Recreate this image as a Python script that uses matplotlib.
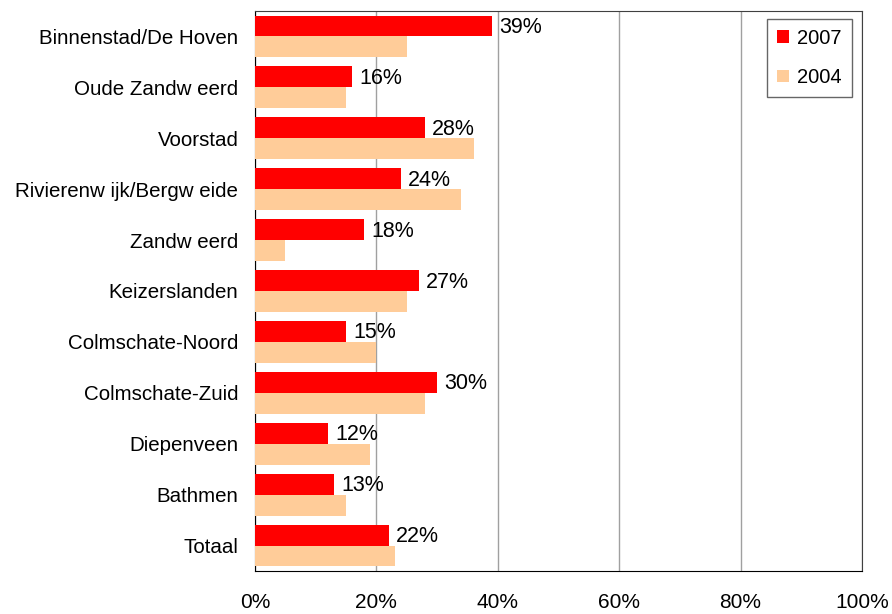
import numpy as np
import matplotlib.pyplot as plt
from matplotlib.ticker import PercentFormatter

plt.rcParams['font.family'] = ['Liberation Sans', 'DejaVu Sans']

wijken = ['Binnenstad/De Hoven', 'Oude Zandw eerd', 'Voorstad', 'Rivierenw ijk/Bergw eide',
          'Zandw eerd', 'Keizerslanden', 'Colmschate-Noord', 'Colmschate-Zuid',
          'Diepenveen', 'Bathmen', 'Totaal']
waarden2007 = [39, 16, 28, 24, 18, 27, 15, 30, 12, 13, 22]
waarden2004 = [25, 15, 36, 34, 5, 25, 20, 28, 19, 15, 23]

fig = plt.figure(figsize=(8.92, 6.14), dpi=100)
ax = fig.add_axes([255 / 892, 1 - 571 / 614, (862 - 255) / 892, (571 - 11) / 614])

y = np.arange(len(wijken)) + 0.5
h = 0.41
ax.barh(y - h / 2, waarden2007, height=h, color='#ff0000', label='2007', zorder=3)
ax.barh(y + h / 2, waarden2004, height=h, color='#ffcc99', label='2004', zorder=3)

for yi, v in zip(y, waarden2007):
    ax.text(v + 1.2, yi - h / 2 - 0.02, f'{v}%', va='center_baseline', ha='left',
            fontsize=15.5, zorder=4)

ax.set_xlim(0, 100)
ax.set_ylim(len(wijken), 0)
ax.set_xticks([0, 20, 40, 60, 80, 100])
ax.xaxis.set_major_formatter(PercentFormatter(decimals=0))
ax.set_yticks(y)
ax.set_yticklabels(wijken)
ax.tick_params(axis='both', length=0)
ax.tick_params(axis='x', pad=16, labelsize=15)
ax.tick_params(axis='y', pad=12, labelsize=14.8)
ax.grid(axis='x', color='#a0a0a0', linewidth=1, zorder=0)

for side in ['top', 'right']:
    ax.spines[side].set_color('#404040')
for side in ['left', 'bottom']:
    ax.spines[side].set_color('black')

leg = ax.legend(loc='upper right', bbox_to_anchor=(0.9835, 0.986), fontsize=14.5, frameon=True,
                fancybox=False, edgecolor='#404040', handlelength=0.6, handleheight=0.6,
                handletextpad=0.4, labelspacing=1.0, borderpad=0.5, borderaxespad=0)
leg.get_frame().set_linewidth(1)

fig.savefig('out.png', dpi=100)
